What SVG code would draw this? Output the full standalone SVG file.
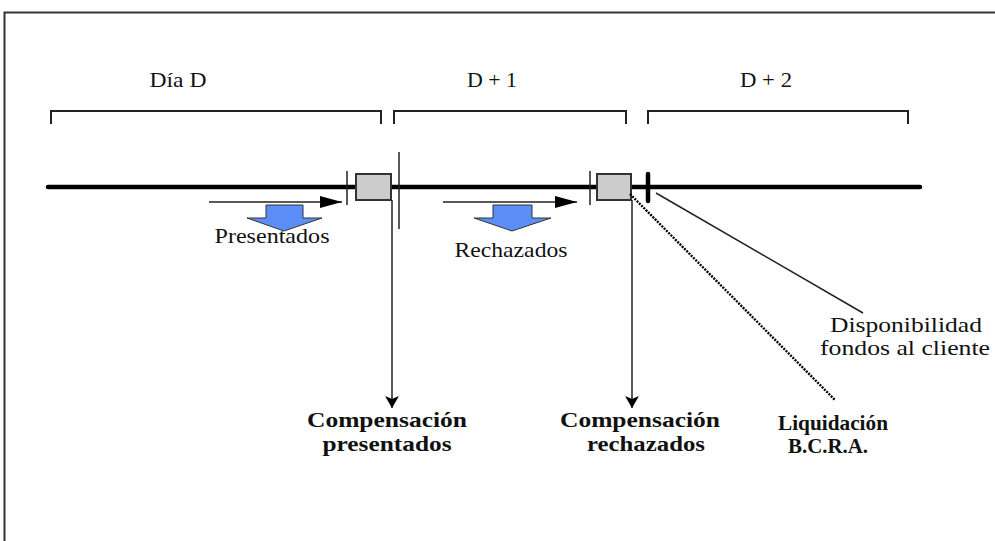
<svg xmlns="http://www.w3.org/2000/svg" width="995" height="541" viewBox="0 0 995 541">
<defs>
<marker id="ahd" markerWidth="12" markerHeight="14" refX="12" refY="7" orient="auto" markerUnits="userSpaceOnUse" viewBox="0 0 12 14"><path d="M0,0 L12,7 L0,14 L3,7 z" fill="#000"/></marker>
<marker id="ahh" markerWidth="22" markerHeight="12" refX="22" refY="6" orient="auto" markerUnits="userSpaceOnUse" viewBox="0 0 22 12"><path d="M0,0 L22,6 L0,12 z" fill="#000"/></marker>
</defs>
<style>
.t{font-family:"Liberation Serif","Times New Roman",serif;font-size:22px;fill:#111}
.b{font-family:"Liberation Serif","Times New Roman",serif;font-size:22px;font-weight:bold;fill:#111}
.br{fill:none;stroke:#222;stroke-width:2}
.thin{stroke:#222;stroke-width:1.5;fill:none}
.box{fill:#cccccc;stroke:#333;stroke-width:2}
.blue{fill:#5b8ef7;stroke:#333;stroke-width:1}
</style>
<rect width="995" height="541" fill="#fff"/>
<g id="frame">
<path d="M995,12.5 H4.5 V541" fill="none" stroke="#333" stroke-width="2"/>
</g>
<g id="brackets">
<path class="br" d="M51,124 V111 H381 V124"/>
<path class="br" d="M394,124 V111 H626 V124"/>
<path class="br" d="M648,124 V111 H908 V124"/>
<text class="t" x="178" y="87" text-anchor="middle" textLength="57" lengthAdjust="spacingAndGlyphs">Día D</text>
<text class="t" x="492" y="87" text-anchor="middle" textLength="50" lengthAdjust="spacingAndGlyphs">D + 1</text>
<text class="t" x="766" y="87" text-anchor="middle" textLength="52" lengthAdjust="spacingAndGlyphs">D + 2</text>
</g>
<g id="timeline">
<line x1="48" y1="187" x2="920" y2="187" stroke="#000" stroke-width="4.5" stroke-linecap="round"/>
<line x1="347" y1="171" x2="347" y2="205" class="thin"/>
<line x1="399" y1="152" x2="399" y2="229" class="thin"/>
<line x1="590" y1="171" x2="590" y2="205" class="thin"/>
<line x1="648" y1="174" x2="648" y2="201" stroke="#000" stroke-width="4.5" stroke-linecap="round"/>
</g>
<g id="box1"><rect class="box" x="356" y="174" width="35" height="26"/></g>
<g id="box2"><rect class="box" x="597" y="174" width="34" height="26"/></g>
<g id="presentados">
<line x1="209" y1="202" x2="342" y2="202" class="thin" marker-end="url(#ahh)"/>
<path class="blue" d="M266,205 H303 V218 H322 L284,231 L247,218 H266 z"/>
<text class="t" x="272" y="243" text-anchor="middle" textLength="115" lengthAdjust="spacingAndGlyphs">Presentados</text>
</g>
<g id="rechazados">
<line x1="443" y1="202" x2="577" y2="202" class="thin" marker-end="url(#ahh)"/>
<path class="blue" d="M493,205 H532 V218 H551 L512,231 L474,218 H493 z"/>
<text class="t" x="511" y="257" text-anchor="middle" textLength="113" lengthAdjust="spacingAndGlyphs">Rechazados</text>
</g>
<g id="connectors">
<line x1="392" y1="200" x2="392" y2="408" class="thin" marker-end="url(#ahd)"/>
<line x1="632" y1="200" x2="632" y2="408" class="thin" marker-end="url(#ahd)"/>
<line x1="656" y1="193" x2="863" y2="313" class="thin"/>
<line x1="630" y1="194" x2="835" y2="400" stroke="#000" stroke-width="2.4" stroke-dasharray="2 1.2"/>
</g>
<g id="comp-presentados">
<text class="b" x="387" y="427" text-anchor="middle" textLength="160" lengthAdjust="spacingAndGlyphs">Compensación</text>
<text class="b" x="387" y="451" text-anchor="middle" textLength="129" lengthAdjust="spacingAndGlyphs">presentados</text>
</g>
<g id="comp-rechazados">
<text class="b" x="640" y="427" text-anchor="middle" textLength="160" lengthAdjust="spacingAndGlyphs">Compensación</text>
<text class="b" x="646" y="451" text-anchor="middle" textLength="118" lengthAdjust="spacingAndGlyphs">rechazados</text>
</g>
<g id="liquidacion">
<text class="b" x="833" y="430" text-anchor="middle" textLength="110" lengthAdjust="spacingAndGlyphs">Liquidación</text>
<text class="b" x="828" y="453" text-anchor="middle" textLength="80" lengthAdjust="spacingAndGlyphs">B.C.R.A.</text>
</g>
<g id="disponibilidad">
<text class="t" x="906" y="332" text-anchor="middle" textLength="152" lengthAdjust="spacingAndGlyphs">Disponibilidad</text>
<text class="t" x="905" y="355" text-anchor="middle" textLength="170" lengthAdjust="spacingAndGlyphs">fondos al cliente</text>
</g>
</svg>
